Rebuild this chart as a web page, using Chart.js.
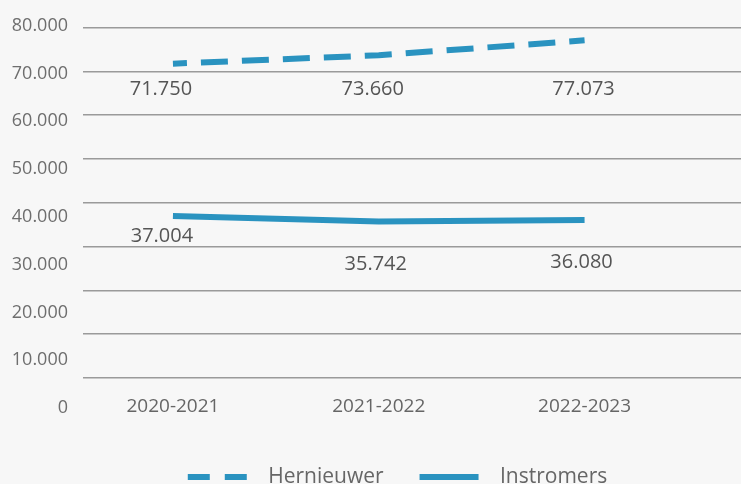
<!DOCTYPE html>
<html>
<head>
<meta charset="utf-8">
<script src="https://cdn.jsdelivr.net/npm/chart.js@4.4.1/dist/chart.umd.min.js"></script>
<style>
html,body{margin:0;padding:0;background:#f7f7f7;}
#wrap{width:741px;height:484px;position:relative;overflow:hidden;}
</style>
</head>
<body>
<div id="wrap"><canvas id="c"></canvas></div>
<script>
const categories = ['2020-2021', '2021-2022', '2022-2023'];
const seriesNames = ['Hernieuwer', 'Instromers'];
const hernieuwer = [71750, 73660, 77073];
const instromers = [37004, 35742, 36080];
const yTickValues = [0, 10000, 20000, 30000, 40000, 50000, 60000, 70000, 80000];
const yTickLabels = ['0', '10.000', '20.000', '30.000', '40.000', '50.000', '60.000', '70.000', '80.000'];

const FONT = "'Open Sans', 'Noto Sans', sans-serif";
const BLUE = '#2a93c0';
const fmt = v => String(v).replace(/\B(?=(\d{3})+(?!\d))/g, '.');

const pointLabels = {
  id: 'pointLabels',
  afterDatasetsDraw(chart, args, opts) {
    const ctx = chart.ctx;
    ctx.save();
    ctx.font = opts.size + 'px ' + FONT;
    ctx.fillStyle = opts.color;
    ctx.textAlign = 'center';
    ctx.textBaseline = 'middle';
    chart.data.datasets.forEach((ds, di) => {
      const meta = chart.getDatasetMeta(di);
      const off = opts.offsets[di];
      meta.data.forEach((pt, i) => {
        ctx.fillText(fmt(ds.data[i].y), pt.x + off.dx[i], pt.y + off.dy[i]);
      });
    });
    ctx.restore();
  }
};

const legendShift = {
  id: 'legendShift',
  afterLayout(chart, args, opts) {
    const l = chart.legend;
    if (l) { l.left += opts.dx; l.right += opts.dx; }
  }
};

new Chart(document.getElementById('c'), {
  type: 'line',
  data: {
    datasets: [
      {
        label: seriesNames[0],
        data: hernieuwer.map((v, i) => ({ x: i, y: v })),
        borderColor: BLUE,
        backgroundColor: BLUE,
        borderWidth: 6,
        borderDash: [27, 14],
        borderDashOffset: 13,
        borderCapStyle: 'butt',
        pointRadius: 0,
        fill: false,
        tension: 0,
        yAxisID: 'y'
      },
      {
        label: seriesNames[1],
        data: instromers.map((v, i) => ({ x: i, y: v })),
        borderColor: BLUE,
        backgroundColor: BLUE,
        borderWidth: 6,
        borderCapStyle: 'butt',
        pointRadius: 0,
        fill: false,
        tension: 0,
        yAxisID: 'y'
      }
    ]
  },
  options: {
    responsive: true,
    maintainAspectRatio: false,
    animation: false,
    devicePixelRatio: 1,
    layout: { padding: { top: 25, left: 0, right: 0, bottom: -13.5 } },
    scales: {
      x: {
        type: 'linear',
        min: -0.437,
        max: 2.76,
        afterBuildTicks: s => { s.ticks = categories.map((c, i) => ({ value: i })); },
        afterFit: s => { s.height = 22.5; },
        ticks: {
          callback: (v, i) => categories[i],
          font: { family: FONT, size: 19 },
          color: '#666666',
          mirror: true,
          padding: -10,
          maxRotation: 0,
          autoSkip: false
        },
        grid: { display: false, drawTicks: false },
        border: { display: false }
      },
      yLabels: {
        type: 'linear',
        position: 'left',
        min: 0,
        max: 80000,
        afterBuildTicks: s => { s.ticks = yTickValues.map(v => ({ value: v })); },
        afterFit: s => { s.width = 83; },
        ticks: {
          callback: (v, i) => yTickLabels[i],
          font: { family: FONT, size: 18 },
          color: '#6e6e6e',
          padding: 15
        },
        grid: { display: false, drawTicks: false },
        border: { display: false }
      },
      y: {
        type: 'linear',
        position: 'left',
        min: -6832,
        max: 80387,
        afterBuildTicks: s => { s.ticks = yTickValues.map(v => ({ value: v })); },
        afterFit: s => { s.width = 0; },
        ticks: { display: false },
        grid: { color: '#9a9a9a', lineWidth: 1.5, drawTicks: false },
        border: { display: false }
      }
    },
    plugins: {
      tooltip: { enabled: false },
      legend: {
        position: 'bottom',
        labels: {
          usePointStyle: true,
          pointStyle: 'line',
          pointStyleWidth: 59,
          padding: 36,
          font: { family: FONT, size: 21 },
          color: '#666666',
          generateLabels: chart => {
            const items = Chart.defaults.plugins.legend.labels.generateLabels(chart);
            items.forEach((it, i) => {
              it.text = '  ' + it.text;
              it.lineWidth = 6;
              it.strokeStyle = BLUE;
              it.lineDash = i === 0 ? [22, 15] : [];
              it.lineDashOffset = 0;
            });
            return items;
          }
        }
      },
      pointLabels: {
        size: 20,
        color: '#555555',
        offsets: [
          { dx: [-12, -6, -1], dy: [26, 34, 49] },
          { dx: [-11, -3, -3], dy: [20, 43, 42] }
        ]
      },
      legendShift: { dx: 27 }
    }
  },
  plugins: [pointLabels, legendShift]
});
</script>
</body>
</html>
